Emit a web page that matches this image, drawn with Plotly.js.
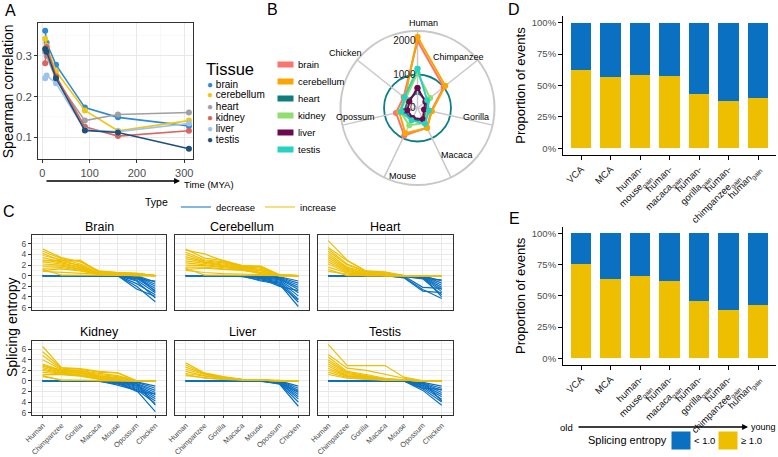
<!DOCTYPE html>
<html><head><meta charset="utf-8">
<script src="https://cdn.plot.ly/plotly-3.0.1.min.js"></script>
<style>html,body{margin:0;padding:0;background:#fff;overflow:hidden}#chart{width:778px;height:457px}</style>
</head><body><div id="chart"></div>
<script>
// ---------- Panel A data ----------
const tissuesA = ['brain','cerebellum','heart','kidney','liver','testis'];
const timeMYA = [6, 9, 29, 90, 160, 310];
const corBrain      = [0.362, 0.332, 0.278, 0.173, 0.149, 0.128];
const corCerebellum = [0.342, 0.325, 0.262, 0.166, 0.116, 0.141];
const corHeart      = [0.310, 0.300, 0.242, 0.141, 0.156, 0.161];
const corKidney     = [0.282, 0.322, 0.250, 0.126, 0.103, 0.116];
const corLiver      = [0.245, 0.252, 0.233, 0.118, 0.114, 0.134];
const corTestis     = [0.317, 0.310, 0.245, 0.117, 0.112, 0.072];
const aTickVals = [0, 100, 200, 300];
const aYTickVals = [0.1, 0.2, 0.3];

// ---------- Panel B data ----------
const speciesB = ['Human','Chimpanzee','Gorilla','Macaca','Mouse','Opossum','Chicken'];
const radBrain      = [2000, 1000, 420, 650, 910, 660, 530];
const radCerebellum = [2120, 1060, 440, 660, 840, 560, 480];
const radHeart      = [480, 340, 270, 420, 380, 400, 370];
const radKidney     = [1050, 480, 300, 500, 570, 520, 450];
const radLiver      = [600, 300, 200, 370, 330, 310, 310];
const radTestis     = [1170, 370, 350, 520, 410, 510, 500];
const bTickVals = [0, 1000, 2000];

// ---------- Panel C data ----------
const speciesC = ['Human','Chimpanzee','Gorilla','Macaca','Mouse','Opossum','Chicken'];
const facetNames = ['Brain','Cerebellum','Heart','Kidney','Liver','Testis'];
const cTickVals = [-6,-4,-2,0,2,4,6];
const cTickText = ['6','4','2','0','2','4','6'];

const brainInc = [
 [5.0,3.4,2.6,0.9,0.6,0.5,0],[4.6,3.2,2.2,0.8,0.6,0.4,0],[4.2,2.8,2.9,0.7,0.5,0.3,0],
 [3.8,3.0,1.8,0.6,0.5,0.3,0],[3.4,2.6,2.0,0.5,0.4,0.2,0],[3.0,2.4,1.6,0.5,0.4,0.2,0],
 [2.6,2.2,1.5,0.4,0.3,0.1,0],[2.2,2.0,1.3,0.4,0.3,0.1,0],[1.8,1.8,1.2,0.3,0.2,0.1,0],
 [1.4,1.5,1.0,0.3,0.2,0.0,0],[1.0,1.3,0.9,0.2,0.1,0.0,0],[0.8,0.6,0.4,0.2,0.1,0.0,0],
 [2.8,2.9,2.9,0.7,0.6,0.4,0],[1.2,0.1,0.1,0.1,0.0,0.0,0]];
const brainDec = [
 [0,0,0,0,0,-2.5,-3.9],[0,0,0,0,0,-2.0,-4.9],[0,0,0,0,0,-1.5,-3.6],[0,0,0,0,0,-0.8,-3.2],
 [0,0,0,0,0,-0.5,-2.8],[0,0,0,0,0,-0.3,-2.4],[0,0,0,0,0,-0.2,-2.0],[0,0,0,0,0,-0.1,-1.6],
 [0,0,0,0,0,0,-1.2],[0,0,0,0,0,-0.6,-1.0],[0,0,0,0,0,0,-3.0],[0,0,0,0,0,-1.0,-4.2]];

const cerebellumInc = [
 [5.0,3.3,2.9,1.9,1.8,0.1,0],[4.8,4.1,2.8,1.9,1.7,0.2,0],[4.4,3.0,2.6,1.8,1.6,0.1,0],
 [4.0,2.8,2.4,1.7,1.4,0.1,0],[3.6,2.6,2.2,1.6,1.2,0.1,0],[3.2,2.5,2.0,1.5,1.0,0,0],
 [2.8,2.3,1.9,1.4,0.9,0,0],[2.4,2.1,1.7,1.3,0.7,0,0],[2.0,1.9,1.5,1.2,0.6,0,0],
 [1.6,1.6,1.3,1.1,0.5,0,0],[1.2,1.4,1.2,1.0,0.4,0,0],[1.0,0.6,0.4,0.3,0.2,0,0],
 [1.4,0.1,0.1,0.1,0.1,0,0]];
const cerebellumDec = [
 [0,0,0,0,-1.0,-1.6,-5.8],[0,0,0,-0.2,-0.8,-1.4,-5.0],[0,0,0,0,-0.6,-1.2,-4.4],
 [0,0,0,0,-0.4,-1.0,-3.8],[0,0,0,0,-0.3,-0.8,-3.2],[0,0,0,0,-0.2,-0.6,-2.6],
 [0,0,0,0,-0.1,-0.5,-2.2],[0,0,0,0,0,-0.4,-1.8],[0,0,0,0,0,-0.3,-1.4],
 [0,0,0,0,0,-0.2,-1.0],[0,0,0,0,-0.5,-2.0,-2.8],[0,0,0,0,0,-1.8,-4.6]];

const heartInc = [
 [6.6,2.9,0.9,0.7,0,0,0],[5.3,2.8,0.8,0.6,0,0,0],[5.0,2.2,0.8,0.5,0,0,0],
 [4.6,2.0,0.7,0.3,0,0,0],[4.2,1.6,0.6,0.2,0,0,0],[3.8,1.4,0.5,0.1,0,0,0],
 [3.4,1.2,0.4,0,0,0,0],[3.0,1.0,0.3,0,0,0,0],[2.6,0.8,0.2,0,0,0,0],
 [2.2,0.6,0.1,0,0,0,0],[1.6,0.5,0,0,0,0,0],[0.8,0.3,0,0,0,0,0],[1.2,0,0,0,0,0,0]];
const heartDec = [
 [0,0,0,0,-0.4,-2.9,-3.2],[0,0,0,0,-0.3,-2.6,-4.3],[0,0,0,0,-0.2,-0.6,-3.6],
 [0,0,0,0,0,-0.4,-3.0],[0,0,0,0,0,-0.3,-2.6],[0,0,0,0,0,-0.2,-2.2],
 [0,0,0,0,0,-0.1,-1.8],[0,0,0,0,0,0,-1.4],[0,0,0,0,0,0,-1.0],
 [0,0,0,0,0,-0.5,-0.8],[0,0,0,0,-0.1,-2.2,-2.4],[0,0,0,0,0,-0.2,-4.0]];

const kidneyInc = [
 [6.5,2.5,2.3,1.8,1.5,0,0],[5.5,2.4,2.2,1.6,1.5,0,0],[4.8,2.2,2.0,1.4,1.0,0,0],
 [4.0,2.1,1.9,1.2,0.8,0,0],[3.2,2.0,1.8,1.0,0.6,0,0],[3.0,1.9,1.6,0.9,0.5,0,0],
 [2.8,1.8,1.5,0.8,0.4,0,0],[2.5,1.6,1.4,0.7,0.3,0,0],[2.2,1.5,1.2,0.6,0.2,0,0],
 [2.0,1.4,1.1,0.5,0.1,0,0],[1.6,1.3,1.0,0.4,0.1,0,0],[1.2,1.2,0.9,0.3,0.1,0,0],
 [0.8,0.2,0.1,0.1,0,0,0],[1.0,0.1,0.1,0,0,0,0]];
const kidneyDec = [
 [0,0,0,0,-0.8,-1.8,-5.8],[0,0,0,-0.1,-0.6,-1.6,-4.3],[0,0,0,0,-0.5,-1.4,-3.8],
 [0,0,0,0,-0.4,-1.2,-3.4],[0,0,0,0,-0.3,-1.0,-3.0],[0,0,0,0,-0.2,-0.8,-2.6],
 [0,0,0,0,-0.1,-0.6,-2.2],[0,0,0,0,0,-0.5,-1.8],[0,0,0,0,0,-0.3,-1.4],
 [0,0,0,0,0,-0.2,-1.0],[0,0,0,0,-0.3,-2.0,-2.4],[0,0,0,0,0,-0.4,-4.6]];

const liverInc = [
 [3.4,1.5,0.8,0.3,0.15,0,0],[3.0,1.4,0.7,0.3,0.15,0,0],[2.6,1.3,0.6,0.25,0.15,0,0],
 [2.2,1.2,0.6,0.25,0.15,0,0],[1.8,1.0,0.5,0.2,0.15,0,0],[1.4,0.9,0.4,0.2,0.15,0,0],
 [1.0,0.7,0.3,0.2,0.15,0,0],[1.2,0.5,0.3,0.2,0.15,0,0]];
const liverDec = [
 [0,0,0,0,0,-0.6,-4.8],[0,0,0,0,0,-0.5,-4.0],[0,0,0,0,0,-0.4,-3.4],[0,0,0,0,0,-0.3,-3.0],
 [0,0,0,0,0,-0.2,-2.6],[0,0,0,0,0,-0.1,-2.2],[0,0,0,0,0,0,-1.8],[0,0,0,0,0,0,-1.4],
 [0,0,0,0,0,0,-1.0],[0,0,0,0,-0.1,-0.5,-2.0]];

const testisInc = [
 [6.9,2.9,2.9,2.9,0.7,0,0],[5.0,2.4,2.0,1.2,0.5,0,0],[4.5,1.8,1.2,0.5,0.2,0,0],
 [4.0,1.6,1.0,0.4,0.15,0,0],[3.6,1.4,0.9,0.3,0.15,0,0],[3.2,1.2,0.8,0.3,0.15,0,0],
 [2.8,1.0,0.7,0.2,0.15,0,0],[2.4,0.9,0.6,0.2,0.15,0,0],[2.0,0.8,0.5,0.2,0.15,0,0],
 [1.6,0.6,0.4,0.15,0.15,0,0],[1.2,0.5,0.3,0.15,0.15,0,0]];
const testisDec = [
 [0,0,0,0,0,-1.8,-4.6],[0,0,0,0,0,-1.5,-4.0],[0,0,0,0,0,-1.2,-3.5],[0,0,0,0,0,-1.0,-3.0],
 [0,0,0,0,0,-0.8,-2.6],[0,0,0,0,0,-0.6,-2.2],[0,0,0,0,0,-0.5,-1.8],[0,0,0,0,0,-0.4,-1.4],
 [0,0,0,0,0,-0.3,-1.0],[0,0,0,0,0,-1.4,-1.6],[0,0,0,0,0,-0.2,-3.8]];

// ---------- Panels D / E data ----------
const eventLabels = ['VCA','MCA','human-<br>mouse<sub>gain</sub>','human-<br>macaca<sub>gain</sub>',
  'human-<br>gorilla<sub>gain</sub>','human-<br>chimpanzee<sub>gain</sub>','human<sub>gain</sub>'];
const eventIdx = [0,1,2,3,4,5,6];
const dHigh = [0.623, 0.565, 0.584, 0.578, 0.430, 0.377, 0.403];
const dLow  = [0.377, 0.435, 0.416, 0.422, 0.570, 0.623, 0.597];
const eHigh = [0.752, 0.635, 0.661, 0.621, 0.456, 0.384, 0.427];
const eLow  = [0.248, 0.365, 0.339, 0.379, 0.544, 0.616, 0.573];
const pctVals = [0, 0.25, 0.5, 0.75, 1];
const pctText = ['0%','25%','50%','75%','100%'];
const entropyClasses = ['< 1.0', '≥ 1.0'];

// ---------- styles ----------
const W = 778, H = 457;
const px = x => x / W, py = y => 1 - y / H;
const colA = {brain:'#2b8bd9', cerebellum:'#f2c712', heart:'#a0a0a0', kidney:'#d9655d', liver:'#9cc3ec', testis:'#1d4f7a'};
const colB = {brain:'#f8766d', cerebellum:'#f9a602', heart:'#0f7c80', kidney:'#8fde6e', liver:'#6c0a4f', testis:'#28d2c0'};
const BLUE = '#0a70c2', YELLOW = '#eebf00';
const FONT = 'Liberation Sans, Arial, sans-serif';

const traces = [];
const layout = {
  width: W, height: H, margin: {l:0, r:0, t:0, b:0, autoexpand:false},
  paper_bgcolor: '#fff', plot_bgcolor: '#fff', showlegend: true, hovermode: false,
  font: {family: FONT, color: '#000', size: 10},
  annotations: []
};
const ann = o => layout.annotations.push(Object.assign({xref:'paper', yref:'paper', showarrow:false}, o));

// ---------- Panel A ----------
const corSeries = [corBrain, corCerebellum, corHeart, corKidney, corLiver, corTestis];
tissuesA.forEach((t, i) => {
  traces.push({type:'scatter', mode:'lines+markers', x: timeMYA, y: corSeries[i], name: t,
    xaxis:'x', yaxis:'y', showlegend:false, line:{color: colA[t], width:1.6}, marker:{color: colA[t], size:6}});
});
layout.xaxis = {domain:[px(38.3), px(192.7)], anchor:'y', range:[-8.5, 318], tickvals: aTickVals,
  showgrid:true, gridcolor:'#e8e8e8', gridwidth:1, minor:{tickvals:[50,150,250], showgrid:true, gridcolor:'#f3f3f3', gridwidth:0.6},
  showline:true, mirror:true, linecolor:'#333', linewidth:1, ticks:'outside', ticklen:3, tickcolor:'#333',
  tickfont:{size:11, color:'#4d4d4d'}, zeroline:false};
layout.yaxis = {domain:[py(159.3), py(23.3)], anchor:'x', range:[0.046, 0.38], tickvals: aYTickVals,
  showgrid:true, gridcolor:'#e8e8e8', gridwidth:1, minor:{tickvals:[0.15,0.25,0.35], showgrid:true, gridcolor:'#f3f3f3', gridwidth:0.6},
  showline:true, mirror:true, linecolor:'#333', linewidth:1, ticks:'outside', ticklen:3, tickcolor:'#333',
  tickfont:{size:11.5, color:'#4d4d4d'}, zeroline:false,
  title:{text:'Spearman correlation', font:{size:14}, standoff:4}};
// legend A (text keys)
ann({x:px(204), y:py(69), xanchor:'left', yanchor:'middle', text:'Tissue', font:{size:16.5}});
tissuesA.forEach((t, i) => {
  ann({x:px(205), y:py(84 + i*11), xanchor:'left', yanchor:'middle',
    text:'<span style="color:' + colA[t] + '">●</span> ' + t, font:{size:10}});
});
// time arrow
ann({x:px(180), y:py(181), ax:-135, ay:0, text:'', showarrow:true, arrowhead:2, arrowsize:0.9, arrowwidth:1.3, arrowcolor:'#000'});
ann({x:px(182), y:py(184), xanchor:'left', yanchor:'middle', text:'Time (MYA)', font:{size:9.5}});

// ---------- Panel B ----------
const radSeries = [radBrain, radCerebellum, radHeart, radKidney, radLiver, radTestis];
const closeLoop = arr => arr.concat([arr[0]]);
tissuesA.forEach((t, i) => {
  traces.push({type:'scatterpolar', subplot: t === 'heart' ? 'polar' : 'polar2', mode:'lines+markers',
    r: closeLoop(radSeries[i]), theta: closeLoop(speciesB), name: t, showlegend:false,
    line:{color: colB[t], width:2}, marker:{color: colB[t], size:6}});
});
const polarDomain = {x:[px(340.5), px(494.5)], y:[py(185), py(31)]};
layout.polar = {domain: polarDomain, bgcolor:'#fff',
  radialaxis:{range:[0, 2300], tickvals:[1000], showticklabels:false, showline:false, ticks:'',
    gridcolor:'#0a7e86', gridwidth:1.8},
  angularaxis:{type:'category', categoryarray: speciesB, direction:'clockwise', rotation:90, visible:false}};
layout.polar2 = {domain: polarDomain, bgcolor:'rgba(0,0,0,0)',
  radialaxis:{range:[0, 2300], tickvals: bTickVals, ticktext: bTickVals.map(String), showgrid:false, showline:false,
    ticks:'', angle:90, tickangle:90, side:'counterclockwise', tickfont:{size:10, color:'#222'}},
  angularaxis:{type:'category', categoryarray: speciesB, direction:'clockwise', rotation:90,
    gridcolor:'#c8c8c8', gridwidth:1.5, showline:true, linecolor:'#c8c8c8', linewidth:2, ticks:'',
    showticklabels:false}};
// category labels placed as in the radar layout
const labelPosB = [[424,23],[458,57],[476,117],[457,155],[402,176],[355,117],[345,53]];
speciesB.forEach((s, i) => ann({x:px(labelPosB[i][0]), y:py(labelPosB[i][1]), xanchor:'center', yanchor:'middle',
  text:s, font:{size:9}}));
// legend B
tissuesA.forEach((t, i) => {
  const yy = 64 + i*17.2;
  ann({x:px(285.5), y:py(yy), xanchor:'center', yanchor:'middle', text:'\u00a0', width:15, height:5,
    bgcolor: colB[t], borderpad:0, font:{size:4}});
  ann({x:px(296), y:py(yy), xanchor:'left', yanchor:'middle', text:t, font:{size:9.5}});
});

// ---------- Panel C ----------
const incSets = [brainInc, cerebellumInc, heartInc, kidneyInc, liverInc, testisInc];
const decSets = [brainDec, cerebellumDec, heartDec, kidneyDec, liverDec, testisDec];
function flatten(lines) {
  const xs = [], ys = [];
  lines.forEach(l => { l.forEach((v, j) => { xs.push(speciesC[j]); ys.push(v); }); xs.push(null); ys.push(null); });
  return {xs, ys};
}
const colX = [[32, 166], [175, 309], [317.5, 452.5]];
const rowY = [[235.3, 309.7], [340.7, 414.7]];
facetNames.forEach((f, k) => {
  const col = k % 3, row = Math.floor(k / 3), n = k + 2;
  const dec = flatten(decSets[k]), inc = flatten(incSets[k]);
  traces.push({type:'scatter', mode:'lines', x: dec.xs, y: dec.ys, xaxis:'x'+n, yaxis:'y'+n, name:'decrease',
    legend:'legend', legendgroup:'dec', showlegend: k === 0, connectgaps:false, line:{color: BLUE, width:1.2}});
  traces.push({type:'scatter', mode:'lines', x: inc.xs, y: inc.ys, xaxis:'x'+n, yaxis:'y'+n, name:'increase',
    legend:'legend', legendgroup:'inc', showlegend: k === 0, connectgaps:false, line:{color: YELLOW, width:1.2}});
  layout['xaxis'+n] = {domain:[px(colX[col][0]), px(colX[col][1])], anchor:'y'+n, type:'category',
    categoryarray: speciesC, range:[-0.57, 6.57], showgrid:true, gridcolor:'#e8e8e8', gridwidth:1,
    showline:true, mirror:true, linecolor:'#333', linewidth:1, zeroline:false,
    ticks: row === 1 ? 'outside' : '', ticklen:2.5, tickcolor:'#333', showticklabels: row === 1,
    tickangle:-45, tickfont:{size:7.4, color:'#4d4d4d'}};
  layout['yaxis'+n] = {domain:[py(rowY[row][1]), py(rowY[row][0])], anchor:'x'+n, range:[-6.4, 7.6],
    tickvals: cTickVals, ticktext: cTickText, showgrid:true, gridcolor:'#e8e8e8', gridwidth:1,
    minor:{tickvals:[-5,-3,-1,1,3,5,7], showgrid:true, gridcolor:'#f1f1f1', gridwidth:0.8},
    showline:true, mirror:true, linecolor:'#333', linewidth:1, zeroline:false,
    ticks: col === 0 ? 'outside' : '', ticklen:3, tickcolor:'#333', showticklabels: col === 0,
    tickfont:{size:8.5, color:'#4d4d4d'}};
  ann({x:px((colX[col][0] + colX[col][1]) / 2), y:py(rowY[row][0] - 8.5), xanchor:'center', yanchor:'middle',
    text: f, font:{size:12.5}});
});
ann({x:px(12), y:py(327), textangle:-90, xanchor:'center', yanchor:'middle', text:'Splicing entropy', font:{size:14}});
layout.legend = {orientation:'h', x:px(143), y:py(207), xanchor:'left', yanchor:'middle', bgcolor:'rgba(0,0,0,0)',
  title:{text:'Type', side:'left', font:{size:10.5}}, font:{size:9.5}, itemwidth:30};

// ---------- Panels D & E ----------
function barAxes(xn, yn, top, bottom) {
  layout['xaxis'+xn] = {domain:[px(563.3), px(775.8)], anchor:'y'+yn, range:[-0.6, 6.6], tickvals: eventIdx,
    ticktext: eventLabels, tickangle:-45, showline:true, linecolor:'#000', linewidth:1.3, ticks:'outside',
    ticklen:4, tickcolor:'#000', tickfont:{size:9.5, color:'#111'}, showgrid:false, zeroline:false};
  layout['yaxis'+yn] = {domain:[py(bottom), py(top)], anchor:'x'+xn, range:[-0.05, 1.05], tickvals: pctVals,
    ticktext: pctText, showline:true, linecolor:'#000', linewidth:1.3, ticks:'outside', ticklen:4, tickcolor:'#000',
    tickfont:{size:9.5, color:'#4d4d4d'}, showgrid:false, zeroline:false,
    title:{text:'Proportion of events', font:{size:13}, standoff:3}};
}
barAxes(8, 8, 16.4, 154.6);
barAxes(9, 9, 227, 364.6);
traces.push({type:'bar', x: eventIdx, y: dHigh, xaxis:'x8', yaxis:'y8', name: entropyClasses[1], marker:{color: YELLOW}, showlegend:false, width:0.7});
traces.push({type:'bar', x: eventIdx, y: dLow,  xaxis:'x8', yaxis:'y8', name: entropyClasses[0], marker:{color: BLUE}, showlegend:false, width:0.7});
traces.push({type:'bar', x: eventIdx, y: eHigh, xaxis:'x9', yaxis:'y9', name: entropyClasses[1], marker:{color: YELLOW}, showlegend:false, width:0.7});
traces.push({type:'bar', x: eventIdx, y: eLow,  xaxis:'x9', yaxis:'y9', name: entropyClasses[0], marker:{color: BLUE}, showlegend:false, width:0.7});
layout.barmode = 'stack';
// legend E (swatches + text)
ann({x:px(586), y:py(440), xanchor:'left', yanchor:'middle', text:'Splicing entropy', font:{size:11}});
[[BLUE, 681, 692], [YELLOW, 727.5, 739]].forEach(([c, sx, tx], i) => {
  ann({x:px(sx), y:py(440), xanchor:'center', yanchor:'middle', text:'\u00a0', width:18, height:17,
    bgcolor:c, borderpad:0, font:{size:4}});
  ann({x:px(tx), y:py(440), xanchor:'left', yanchor:'middle', text: entropyClasses[i], font:{size:9.5}});
});
ann({x:px(748), y:py(427), ax:-171, ay:0, text:'', showarrow:true, arrowhead:2, arrowsize:0.9, arrowwidth:1.3, arrowcolor:'#000'});
ann({x:px(575), y:py(427), xanchor:'right', yanchor:'middle', text:'old', font:{size:9.5}});
ann({x:px(749), y:py(427), xanchor:'left', yanchor:'middle', text:'young', font:{size:9}});

// ---------- panel letters ----------
[['A',10,11],['B',272,9],['C',9,211],['D',514,9],['E',514,218]].forEach(([t,x,y]) => {
  ann({x:px(x), y:py(y), xanchor:'center', yanchor:'middle', text:t, font:{size:16}});
});

Plotly.newPlot('chart', traces, layout, {staticPlot:true, displayModeBar:false});
</script></body></html>
